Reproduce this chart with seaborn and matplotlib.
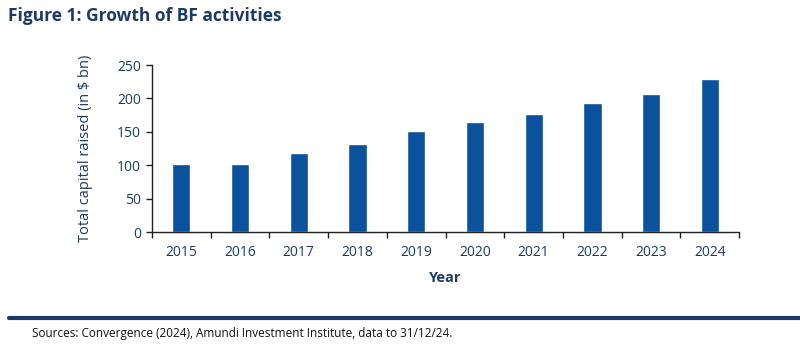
import matplotlib
matplotlib.use("Agg")
import matplotlib.pyplot as plt
import seaborn as sns
import pandas as pd
import numpy as np
from matplotlib.ticker import FixedLocator

years = ["2015", "2016", "2017", "2018", "2019", "2020", "2021", "2022", "2023", "2024"]
capital = [102, 102, 118, 132, 151, 165, 177, 193, 206, 229]
yticks = [0, 50, 100, 150, 200, 250]

sns.set_theme(style="white")
plt.rcParams['font.family'] = ['Open Sans', 'DejaVu Sans']

navy = "#1d3a66"
bar_color = "#0a519e"

df = pd.DataFrame({"Year": years, "Capital": capital})

fig = plt.figure(figsize=(8.0, 3.46), dpi=100)
ax = fig.add_axes([0.19, 0.329, 0.734, 0.483])
sns.barplot(data=df, x="Year", y="Capital", color=bar_color, width=0.31,
            saturation=1, ax=ax)

ax.set_ylim(0, 250)
ax.set_xlim(-0.5, len(years) - 0.5)
ax.set_yticks(yticks)
ax.set_yticklabels([str(v) for v in yticks], color=navy, fontsize=10)
ax.set_xticklabels(years, color=navy, fontsize=10)
ax.xaxis.set_minor_locator(FixedLocator(np.arange(-0.5, len(years), 1.0)))
ax.tick_params(axis='x', which='major', length=0, pad=9)
ax.tick_params(axis='x', which='minor', length=4, width=1, color="#222222", direction='out', bottom=True)
ax.tick_params(axis='y', length=4, width=1, color="#222222", direction='out', left=True, pad=4)

for s in ["top", "right"]:
    ax.spines[s].set_visible(False)
for s in ["left", "bottom"]:
    ax.spines[s].set_color("#222222")
    ax.spines[s].set_linewidth(1.0)

ax.set_xlabel("Year", color=navy, fontsize=10.5, fontweight='bold', labelpad=8)
ax.set_ylabel("Total capital raised (in $ bn)", color=navy, fontsize=10.5, labelpad=17)

fig.text(0.01, 0.955, "Figure 1: Growth of BF activities", color=navy, fontsize=12.5,
         fontweight='bold', va='center', ha='left')
fig.add_artist(plt.Line2D([0.011, 1.0], [1 - 318/346, 1 - 318/346], color=navy, linewidth=3,
                          transform=fig.transFigure))
fig.text(0.04, 1 - 334/346, "Sources: Convergence (2024), Amundi Investment Institute, data to 31/12/24.",
         color="#111111", fontsize=8.5, va='center', ha='left')

fig.savefig("out.png", dpi=100)
